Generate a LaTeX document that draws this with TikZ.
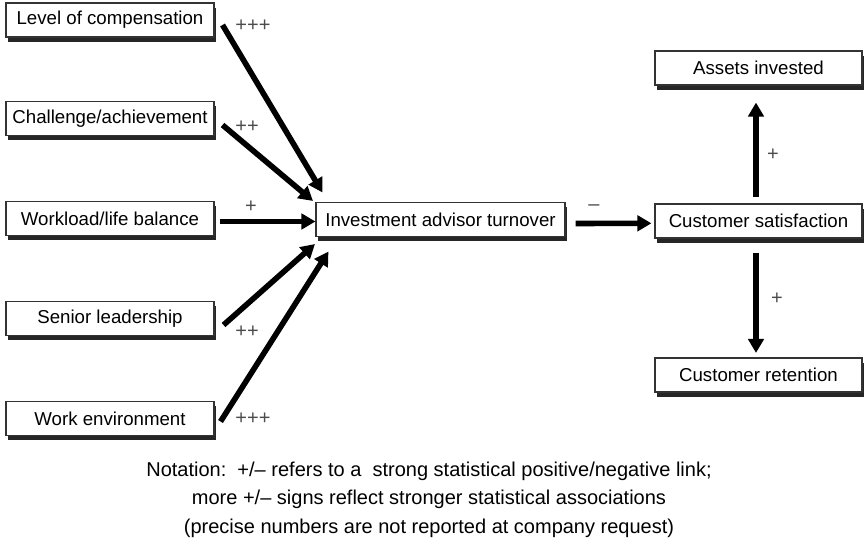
\documentclass[tikz,border=0pt]{standalone}
\usepackage{fontspec}
\setmainfont{Liberation Sans}
\usepackage{xcolor}
\usepackage{tikz}
\usetikzlibrary{arrows.meta,calc,shadows}

\begin{document}
\begin{tikzpicture}[
  x=0.75pt, y=-0.75pt,
  box/.style={draw=black!80, line width=0.8pt, fill=white, minimum height=25.5pt, inner sep=0pt,
    font=\fontsize{14}{16.8}\selectfont,
    drop shadow={shadow xshift=1.5pt, shadow yshift=-3.4pt, fill=black!85, opacity=1}},
  lbox/.style={box, minimum width=156pt},
  rbox/.style={box, minimum width=155.25pt},
  arr/.style={-{Triangle[length=10.5pt, width=11.5pt]}, line width=4.2pt},
  sign/.style={font=\fontsize{15}{18}\selectfont, text=black!70, inner sep=0pt},
]
\useasboundingbox (0,0) rectangle (868,549);

% factors on the left
\node[lbox] (lvl)    at (110,20)    {Level of compensation};
\node[lbox] (chal)   at (110,118.5) {Challenge/achievement};
\node[lbox] (work)   at (110,218.5) {Workload/life balance};
\node[lbox] (senior) at (110,318.5) {Senior leadership};
\node[lbox] (env)    at (110,418.5) {Work environment};

% turnover and outcomes
\node[box, minimum width=186.75pt] (inv) at (440.5,219.5) {Investment advisor turnover};
\node[rbox] (sat)    at (758.5,221) {Customer satisfaction};
\node[rbox] (assets) at (758.5,68)  {Assets invested};
\node[rbox] (ret)    at (758.5,375) {Customer retention};

\draw[arr] ($(lvl.east)+(8,5)$)     -- ($(inv.north west)+(7,-9.5)$);
\draw[arr] ($(chal.east)+(8,6.5)$)  -- ($(inv.north west)+(-2.5,-1)$);
\draw[arr] ($(work.east)+(5,3)$)    -- ($(inv.west)+(0,2)$);
\draw[arr] ($(senior.east)+(9,6.5)$)-- ($(inv.south west)+(-0.5,7)$);
\draw[arr] ($(env.east)+(6,3)$)     -- ($(inv.south west)+(13,14.5)$);
\draw[arr] ($(inv.east)+(10,4)$)    -- ($(sat.west)+(-3,2.3)$);
\draw[arr] ($(sat.north)+(-2.5,-6)$)-- ($(assets.south)+(-2.5,17)$);
\draw[arr] ($(sat.south)+(-2.5,14)$)-- ($(ret.north)+(-2.5,-4.5)$);

% strength of the links
\node[sign] (slvl)    at (253,26)  {+++};
\node[sign] (schal)   at (247,127) {++};
\node[sign] (swork)   at (251,207) {+};
\node[sign] (ssenior) at (247,332) {++};
\node[sign] (senv)    at (253,418.5) {+++};
\node[sign] (sinv)    at (594,208) {–};
\node[sign] (sassets) at (773,155) {+};
\node[sign] (sret)    at (777,299) {+};

\node[align=center, font=\fontsize{15}{21.5}\selectfont] (note) at (429,499.5)
  {Notation:\ \ +/– refers to a\ \ strong statistical positive/negative link;\\
   more +/– signs reflect stronger statistical associations\\
   (precise numbers are not reported at company request)};
\end{tikzpicture}
\end{document}
